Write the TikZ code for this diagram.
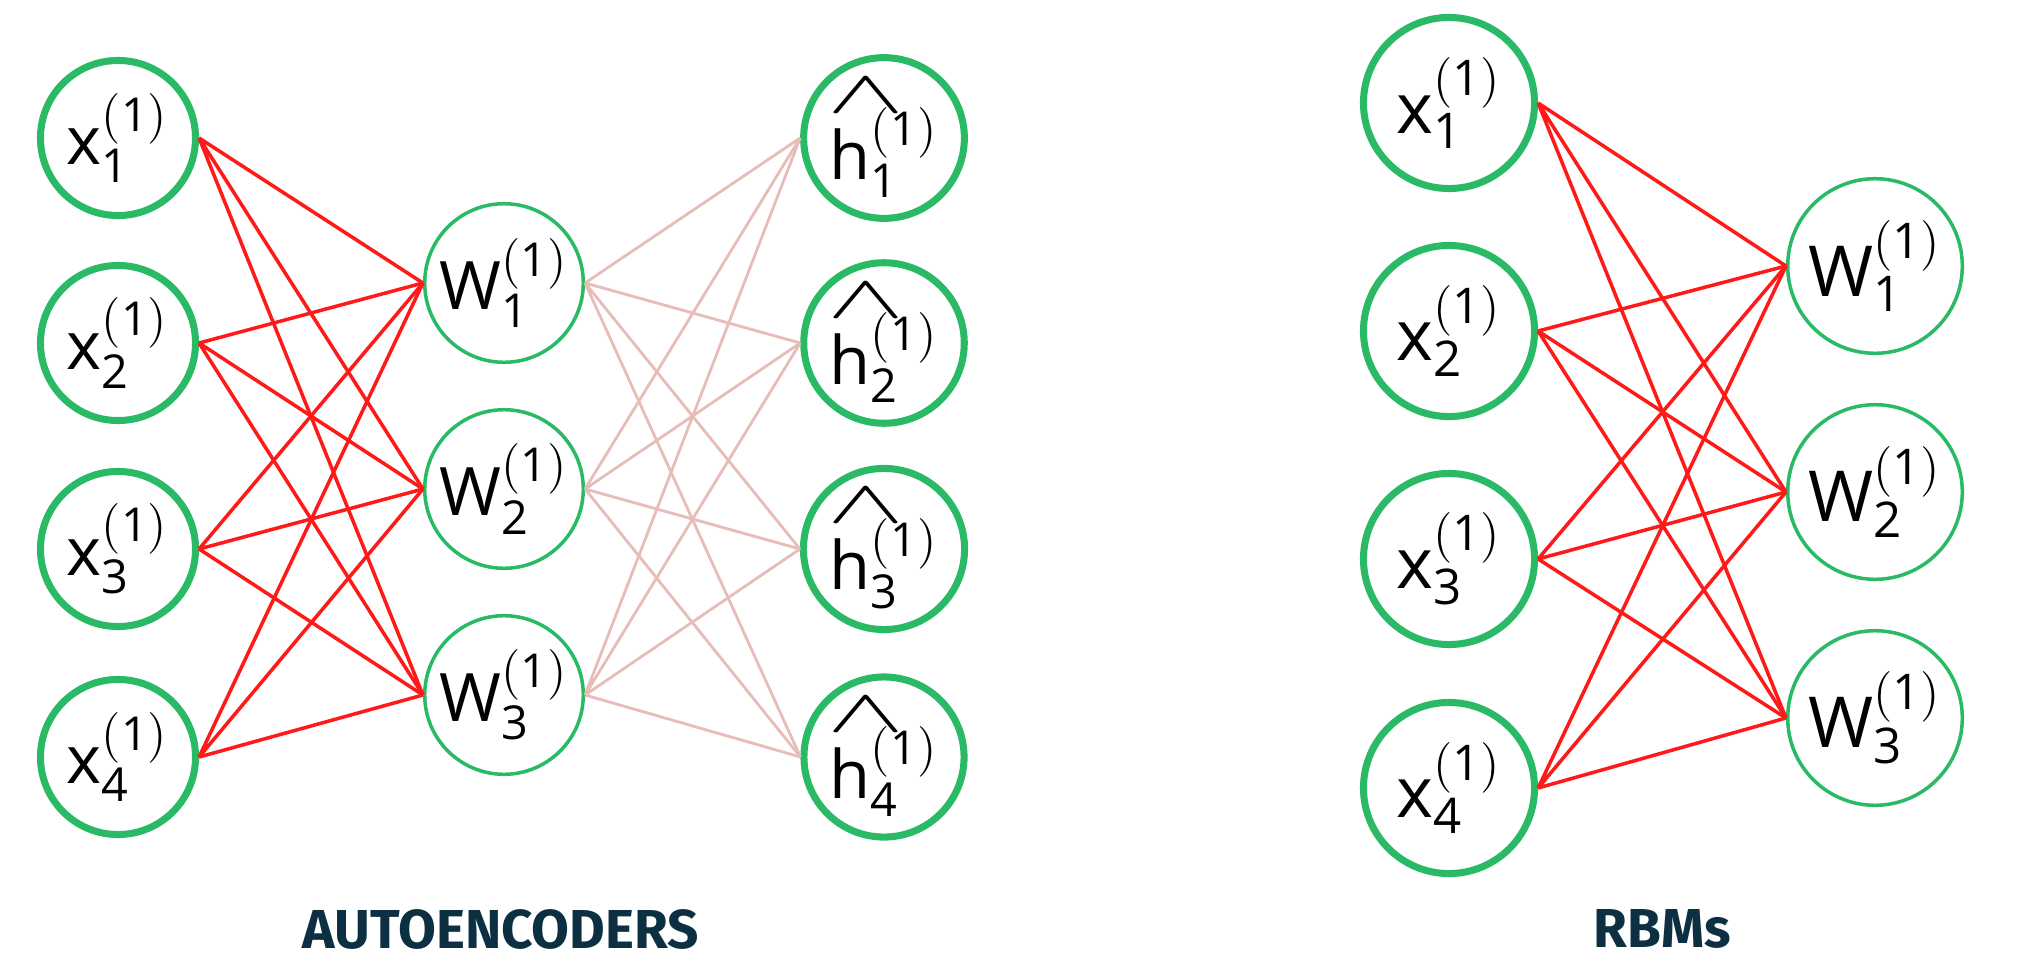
\documentclass[tikz,border=0pt]{standalone}
\usepackage{fontspec}
\setmainfont{Open Sans}
\newfontfamily\capfont{Fira Sans}
\definecolor{unitgreen}{RGB}{42,186,102}
\definecolor{linkred}{RGB}{255,25,25}
\definecolor{linkpink}{RGB}{232,188,184}
\definecolor{capnavy}{RGB}{12,48,66}
\newcommand{\xin}[1]{$\mathrm{x}_{\mathrm{#1}}^{\mathrm{(1)}}$}
\newcommand{\wgt}[1]{$\mathrm{W}_{\mathrm{#1}}^{\mathrm{(1)}}$}
\newcommand{\hrec}[1]{\rlap{\hspace{-0.03em}\raisebox{1.0em}{\scalebox{1.9}[1.0]{$\wedge$}}}$\mathrm{h}_{\mathrm{#1}}^{\mathrm{(1)}}$}
\tikzset{
  unit/.style={circle,draw=unitgreen,line width=2pt,minimum size=1.55cm,inner sep=0pt,
    font=\fontsize{19}{22}\selectfont},
  wunit/.style={unit,line width=1pt,minimum size=1.585cm},
  bigunit/.style={unit,minimum size=1.71cm,font=\fontsize{20}{24}\selectfont},
  bigwunit/.style={wunit,minimum size=1.745cm,font=\fontsize{20}{24}\selectfont},
  redlink/.style={draw=linkred,line width=1pt},
  pinklink/.style={draw=linkpink,line width=0.8pt},
  caption/.style={text=capnavy,inner sep=0pt,font=\capfont\bfseries\fontsize{15.6}{18}\selectfont}
}
\begin{document}
\begin{tikzpicture}[x=0.01cm,y=-0.01cm]
\useasboundingbox (0,0) rectangle (2034,976);
% autoencoder
\node[unit] (x1) at (118,138) {\xin{1}};
\node[unit] (x2) at (118,343) {\xin{2}};
\node[unit] (x3) at (118,549) {\xin{3}};
\node[unit] (x4) at (118,757) {\xin{4}};
\node[wunit] (w1) at (504,283) {\wgt{1}};
\node[wunit] (w2) at (504,489) {\wgt{2}};
\node[wunit] (w3) at (504,695) {\wgt{3}};
\node[unit] (h1) at (884,138) {\hrec{1}};
\node[unit] (h2) at (884,343) {\hrec{2}};
\node[unit] (h3) at (884,549) {\hrec{3}};
\node[unit] (h4) at (884,757) {\hrec{4}};
\path[redlink] (x1.east) -- (w1.west) (x1.east) -- (w2.west) (x1.east) -- (w3.west);
\path[redlink] (x2.east) -- (w1.west) (x2.east) -- (w2.west) (x2.east) -- (w3.west);
\path[redlink] (x3.east) -- (w1.west) (x3.east) -- (w2.west) (x3.east) -- (w3.west);
\path[redlink] (x4.east) -- (w1.west) (x4.east) -- (w2.west) (x4.east) -- (w3.west);
\path[pinklink] (w1.east) -- (h1.west) (w1.east) -- (h2.west) (w1.east) -- (h3.west) (w1.east) -- (h4.west);
\path[pinklink] (w2.east) -- (h1.west) (w2.east) -- (h2.west) (w2.east) -- (h3.west) (w2.east) -- (h4.west);
\path[pinklink] (w3.east) -- (h1.west) (w3.east) -- (h2.west) (w3.east) -- (h3.west) (w3.east) -- (h4.west);
\node[caption] (aecap) at (501,929) {AUTOENCODERS};
% rbm
\node[bigunit] (v1) at (1449,103) {\xin{1}};
\node[bigunit] (v2) at (1449,331) {\xin{2}};
\node[bigunit] (v3) at (1449,559) {\xin{3}};
\node[bigunit] (v4) at (1449,788) {\xin{4}};
\node[bigwunit] (r1) at (1875,266) {\wgt{1}};
\node[bigwunit] (r2) at (1875,492) {\wgt{2}};
\node[bigwunit] (r3) at (1875,718) {\wgt{3}};
\path[redlink] (v1.east) -- (r1.west) (v1.east) -- (r2.west) (v1.east) -- (r3.west);
\path[redlink] (v2.east) -- (r1.west) (v2.east) -- (r2.west) (v2.east) -- (r3.west);
\path[redlink] (v3.east) -- (r1.west) (v3.east) -- (r2.west) (v3.east) -- (r3.west);
\path[redlink] (v4.east) -- (r1.west) (v4.east) -- (r2.west) (v4.east) -- (r3.west);
\node[caption] (rbmcap) at (1662,929) {RBMs};
\end{tikzpicture}
\end{document}
